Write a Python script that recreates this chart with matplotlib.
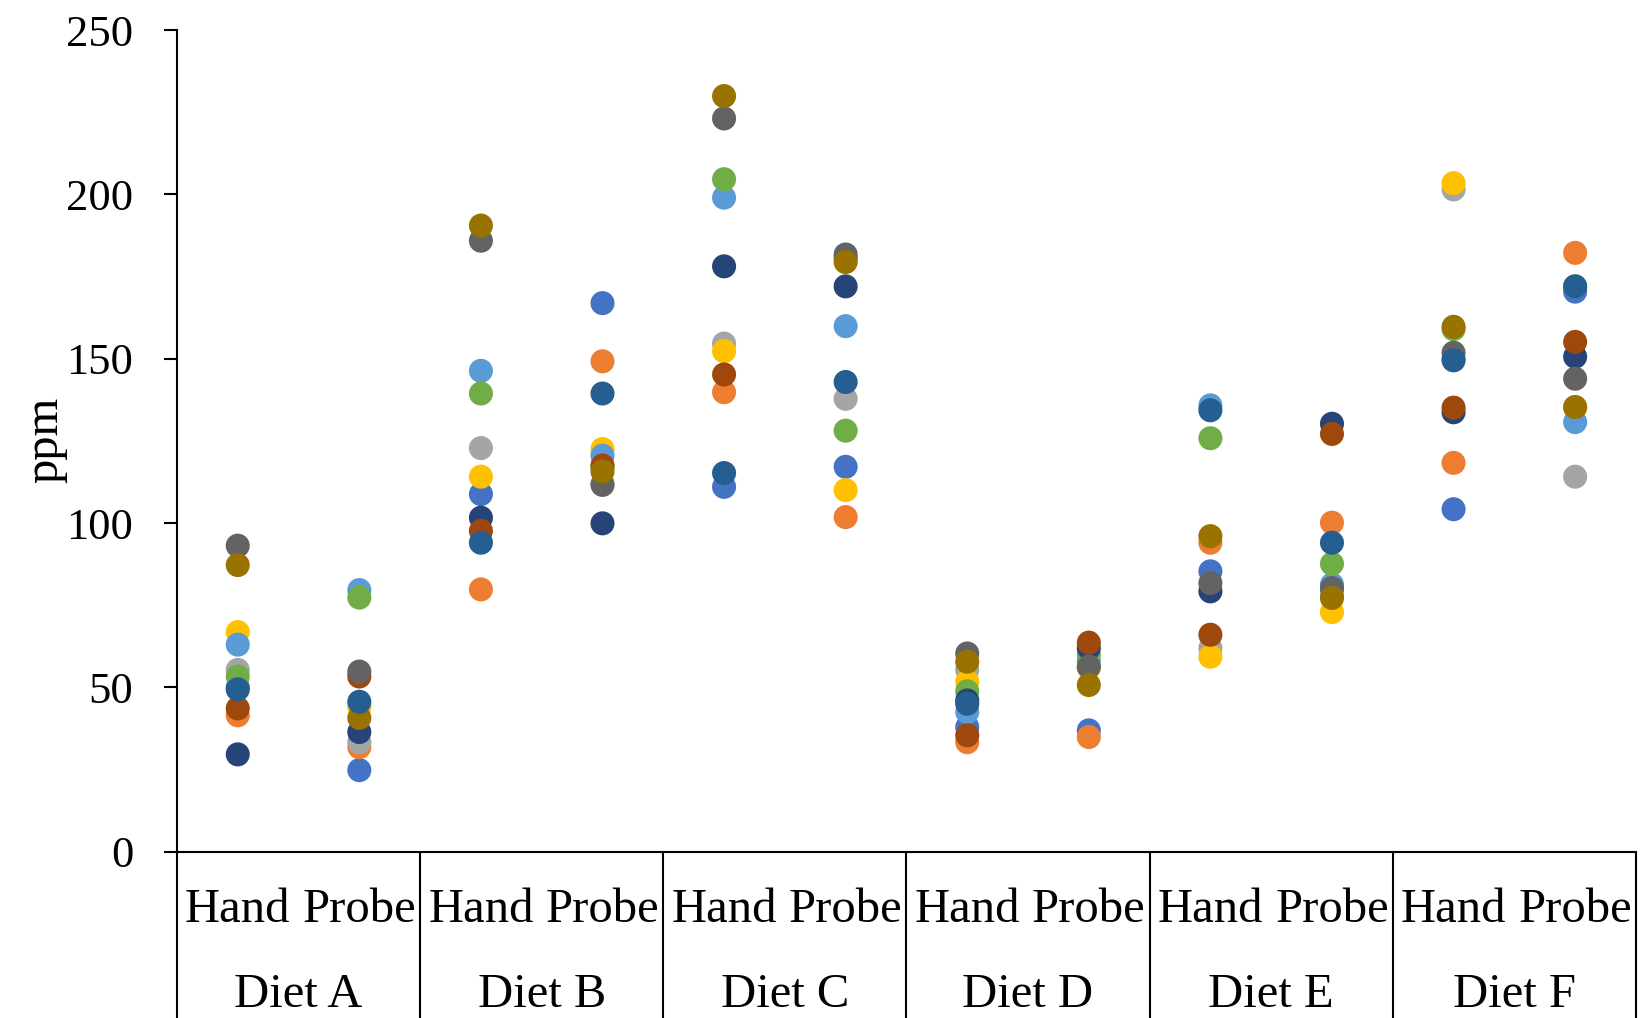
import numpy as np
import matplotlib
matplotlib.use("Agg")
import matplotlib.pyplot as plt

plt.rcParams['font.family'] = ['Liberation Serif', 'DejaVu Serif']

diets = ["Diet A", "Diet B", "Diet C", "Diet D", "Diet E", "Diet F"]
methods = ["Hand", "Probe"]

# 11 series, each value order: A-Hand, A-Probe, B-Hand, B-Probe, ... F-Probe
s1 = [50.0, 24.8, 108.8, 166.9, 111.0, 117.1, 37.9, 36.9, 85.3, 80.0, 104.2, 170.4]
s2 = [41.5, 31.8, 79.8, 149.2, 139.8, 101.8, 33.3, 34.9, 94.0, 100.1, 118.3, 182.2]
s3 = [55.3, 33.3, 122.8, 112.0, 154.6, 137.8, 55.3, 56.0, 61.9, 78.0, 201.5, 114.1]
s4 = [66.8, 44.0, 114.1, 122.5, 152.3, 110.0, 51.7, 56.0, 59.3, 72.9, 203.4, 135.0]
s5 = [63.0, 79.6, 146.3, 120.5, 199.0, 159.9, 42.5, 58.0, 135.8, 81.3, 150.0, 130.7]
s6 = [53.3, 77.3, 139.4, 117.0, 204.6, 128.1, 48.8, 60.0, 125.8, 87.6, 159.0, 172.0]
s7 = [29.6, 36.4, 101.6, 99.9, 178.1, 172.0, 46.0, 62.0, 79.2, 130.2, 133.7, 150.6]
s8 = [43.6, 53.3, 97.6, 117.5, 145.2, 180.5, 35.4, 63.6, 66.0, 127.1, 135.1, 155.1]
s9 = [93.1, 54.8, 185.9, 111.6, 223.1, 181.7, 60.3, 56.3, 81.7, 80.2, 151.8, 143.9]
s10 = [87.2, 40.7, 190.5, 115.7, 229.9, 179.4, 57.8, 50.7, 96.0, 77.2, 159.7, 135.3]
s11 = [49.4, 45.6, 94.0, 139.4, 115.2, 142.9, 45.0, np.nan, 134.3, 94.0, 149.5, 172.0]

series = [s1, s2, s3, s4, s5, s6, s7, s8, s9, s10, s11]
colors = ["#4472C4", "#ED7D31", "#A5A5A5", "#FFC000", "#5B9BD5", "#70AD47",
          "#264478", "#9E480E", "#636363", "#997300", "#255E91"]

yticks = [0, 50, 100, 150, 200, 250]

fig = plt.figure(figsize=(16.43, 10.18), dpi=100)
ax = fig.add_axes([0.1077, 0.1634, 0.9957 - 0.1077, 0.9705 - 0.1634])

x = np.arange(len(diets) * len(methods))
for i, (vals, c) in enumerate(zip(series, colors)):
    ax.scatter(x, vals, s=300, color=c, edgecolors='none', zorder=3 + i)

ax.set_xlim(-0.5, len(x) - 0.5)
ax.set_ylim(0, 250)
ax.set_yticks(yticks)
ax.set_yticklabels([str(t) for t in yticks], fontsize=32)
ax.tick_params(axis='y', direction='out', length=9.4, width=1.5, pad=22)
ax.set_xticks([])

for side in ['top', 'right']:
    ax.spines[side].set_visible(False)
for side in ['left', 'bottom']:
    ax.spines[side].set_linewidth(1.5)
    ax.spines[side].set_color('black')

trans = ax.get_xaxis_transform()
# group separators
for k in range(len(diets) + 1):
    xs = k * 2 - 0.5
    ax.plot([xs, xs], [0, -0.25], transform=trans, color='black', lw=1.5,
            clip_on=False, solid_capstyle='butt')

# category labels
for j, d in enumerate(diets):
    for m_i, m in enumerate(methods):
        ax.text(j * 2 + m_i, -0.0856, m, transform=trans, ha='center',
                va='baseline', fontsize=35)
    ax.text(j * 2 + 0.5, -0.189, d, transform=trans, ha='center',
            va='baseline', fontsize=35)

fig.text(0.0274, 0.568, "ppm", rotation=90, ha='center', va='center', fontsize=35)

fig.savefig("out.png", dpi=100)
